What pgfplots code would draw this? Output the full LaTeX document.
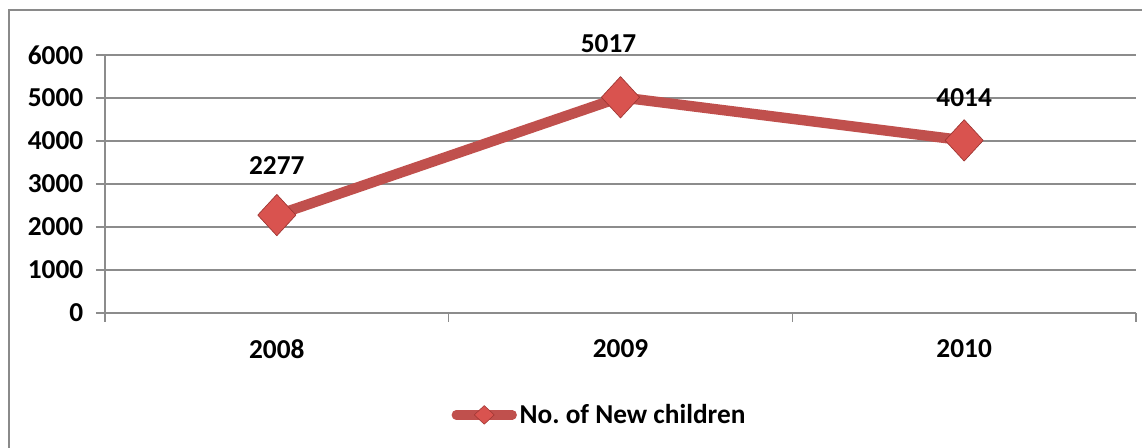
\documentclass[border=0pt]{standalone}
\usepackage{pgfplots}
\pgfplotsset{compat=1.18}
\usepackage{fontspec}
\setmainfont{Carlito}
\frenchspacing
\definecolor{linered}{HTML}{C0504D}
\definecolor{markred}{HTML}{D9534F}
\definecolor{markedge}{HTML}{9E3532}
\definecolor{gridgray}{HTML}{8C8C8C}
\definecolor{framegray}{HTML}{8A8A8A}
\pgfplotstableread{
x y dy dx
0 2277 30.5 0
1 5017 33 -9
2 4014 25 0
}\datatable
\begin{document}
\begin{tikzpicture}
\useasboundingbox (0,0) rectangle (856.5pt,336pt);
\draw[framegray, line width=1.6pt] (7pt,0pt) -- (7pt,328.5pt) -- (860pt,328.5pt);
\begin{axis}[
  at={(78.75pt,101.25pt)}, anchor=south west,
  scale only axis, width=773.25pt, height=193.5pt,
  xmin=-0.5, xmax=2.5, ymin=0, ymax=6000,
  xtick={0,1,2}, xticklabels={2008,2009,2010},
  minor xtick={-0.5,0.5,1.5,2.5},
  ytick={0,1000,...,6000},
  axis lines*=left,
  axis line style={gridgray, line width=0.9pt},
  tick align=outside,
  major tick length=6.75pt, minor tick length=6.75pt,
  major x tick style={draw=none},
  tick style={gridgray, line width=0.9pt},
  ymajorgrids, grid style={gridgray, line width=0.9pt},
  font=\fontsize{20.5}{24}\selectfont\bfseries,
  ticklabel style={font=\fontsize{20.5}{24}\selectfont\bfseries},
  /pgf/number format/assume math mode=true,
  /pgf/number format/.cd, set thousands separator={}, /pgfplots/.cd,
  yticklabel style={xshift=-6pt},
  xticklabel style={yshift=-10pt},
  clip=false,
  legend style={at={(0.48,-0.395)}, anchor=center, draw=none, fill=none,
    font=\fontsize{20.5}{24}\selectfont\bfseries, inner sep=0pt},
  legend cell align=left,
  legend image code/.code={
    \draw[linered, line width=7pt, line cap=round] (0pt,0pt) -- (42pt,0pt);
    \fill[markred, draw=markedge, line width=0.4pt] (21pt,7pt) -- (28.5pt,0pt) -- (21pt,-7pt) -- (13.5pt,0pt) -- cycle;
  },
]
\addplot[linered, line width=7.8pt, line join=round,
  mark=diamond*, mark size=15.5pt,
  mark options={xscale=1.23, fill=markred, draw=markedge, line width=0.5pt},
  visualization depends on={\thisrow{dy} \as \dy},
  visualization depends on={\thisrow{dx} \as \dx},
  nodes near coords,
  nodes near coords style={anchor=south, inner sep=0pt, yshift=\dy pt, xshift=\dx pt, text=black,
    font=\fontsize{20.5}{24}\selectfont\bfseries,
    /pgf/number format/assume math mode=true},
] table[x=x, y=y] {\datatable};
\addlegendentry{No. of New children}
\end{axis}
\end{tikzpicture}
\end{document}
